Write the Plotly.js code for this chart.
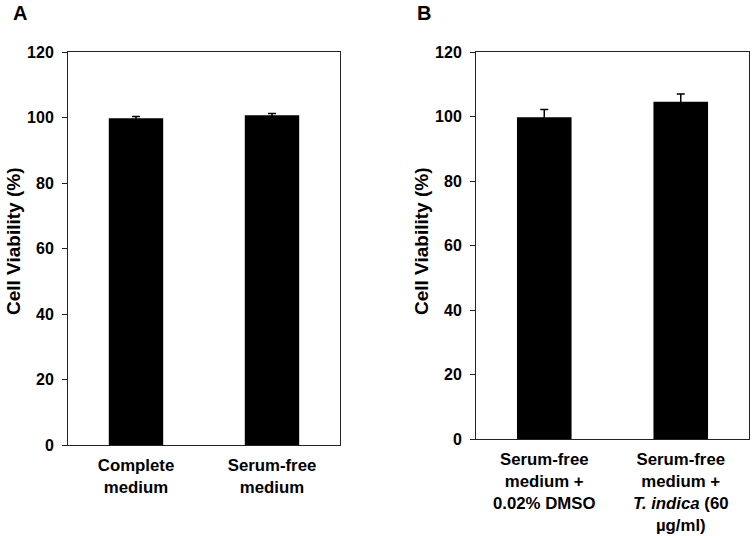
<!DOCTYPE html>
<html>
<head>
<meta charset="utf-8">
<script src="https://cdn.plot.ly/plotly-3.0.1.min.js"></script>
<style>html,body{margin:0;padding:0;background:#fff;}#chart{width:755px;height:536px;}</style>
</head>
<body>
<div id="chart"></div>
<script>
// Panel A
const categoriesA = ["Complete<br>medium", "Serum-free<br>medium"];
const valuesA = [99.8, 100.7];
const errorsA = [0.5, 0.5];
// Panel B
const categoriesB = ["Serum-free<br>medium +<br>0.02% DMSO", "Serum-free<br>medium +<br><i>T. indica</i> (60<br>µg/ml)"];
const valuesB = [99.8, 104.6];
const errorsB = [2.4, 2.4];
const yTicks = [0, 20, 40, 60, 80, 100, 120];
const yTitle = "Cell Viability (%)";
const panelLetters = ["A", "B"];

const FONT = "Arial, 'Liberation Sans', sans-serif";
const lineCol = "#222";

const traces = [
  {type: "bar", x: categoriesA, y: valuesA, xaxis: "x", yaxis: "y",
   marker: {color: "#000"}, width: 0.4,
   error_y: {type: "data", array: errorsA, visible: true, color: "#000", thickness: 1.5, width: 4}},
  {type: "bar", x: categoriesB, y: valuesB, xaxis: "x2", yaxis: "y2",
   marker: {color: "#000"}, width: 0.4,
   error_y: {type: "data", array: errorsB, visible: true, color: "#000", thickness: 1.5, width: 4}}
];

function yax(domain, anchor) {
  return {domain: domain, anchor: anchor, range: [0, 120], tickvals: yTicks, ticktext: yTicks.map(String),
    showgrid: false, zeroline: false, showline: true, mirror: true, linecolor: lineCol, linewidth: 1,
    ticks: "outside", ticklen: 5, tickcolor: lineCol, tickwidth: 1, ticklabelstandoff: 5,
    tickfont: {family: FONT, size: 16, color: "#000", weight: "bold"}, fixedrange: true};
}
function xax(domain, anchor, cats) {
  return {domain: domain, anchor: anchor, type: "category", categoryarray: cats,
    range: [-0.5, cats.length - 0.5],
    showgrid: false, zeroline: false, showline: true, mirror: true, linecolor: lineCol, linewidth: 1,
    ticks: "", ticklabelstandoff: 5,
    tickfont: {family: FONT, size: 16.8, color: "#000", weight: "bold"}, fixedrange: true};
}

const layout = {
  width: 755, height: 536, autosize: false,
  margin: {l: 0, r: 0, t: 0, b: 0},
  paper_bgcolor: "#fff", plot_bgcolor: "#fff",
  showlegend: false,
  xaxis: xax([68/755, 340/755], "y", categoriesA),
  yaxis: yax([1 - 445/536, 1 - 52/536], "x"),
  xaxis2: xax([476/755, 749/755], "y2", categoriesB),
  yaxis2: yax([1 - 439/536, 1 - 52/536], "x2"),
  annotations: [
    {text: yTitle, xref: "paper", yref: "paper", x: 13/755, y: 1 - 242/536, textangle: -90,
     showarrow: false, xanchor: "center", yanchor: "middle",
     font: {family: FONT, size: 19, color: "#000", weight: "bold"}},
    {text: yTitle, xref: "paper", yref: "paper", x: 421/755, y: 1 - 242/536, textangle: -90,
     showarrow: false, xanchor: "center", yanchor: "middle",
     font: {family: FONT, size: 19, color: "#000", weight: "bold"}},
    {text: panelLetters[0], xref: "paper", yref: "paper", x: 11/755, y: 1,
     showarrow: false, xanchor: "left", yanchor: "top",
     font: {family: FONT, size: 20, color: "#000", weight: "bold"}},
    {text: panelLetters[1], xref: "paper", yref: "paper", x: 415/755, y: 1,
     showarrow: false, xanchor: "left", yanchor: "top",
     font: {family: FONT, size: 20, color: "#000", weight: "bold"}}
  ]
};

Plotly.newPlot("chart", traces, layout, {displayModeBar: false, staticPlot: true});
</script>
</body>
</html>
